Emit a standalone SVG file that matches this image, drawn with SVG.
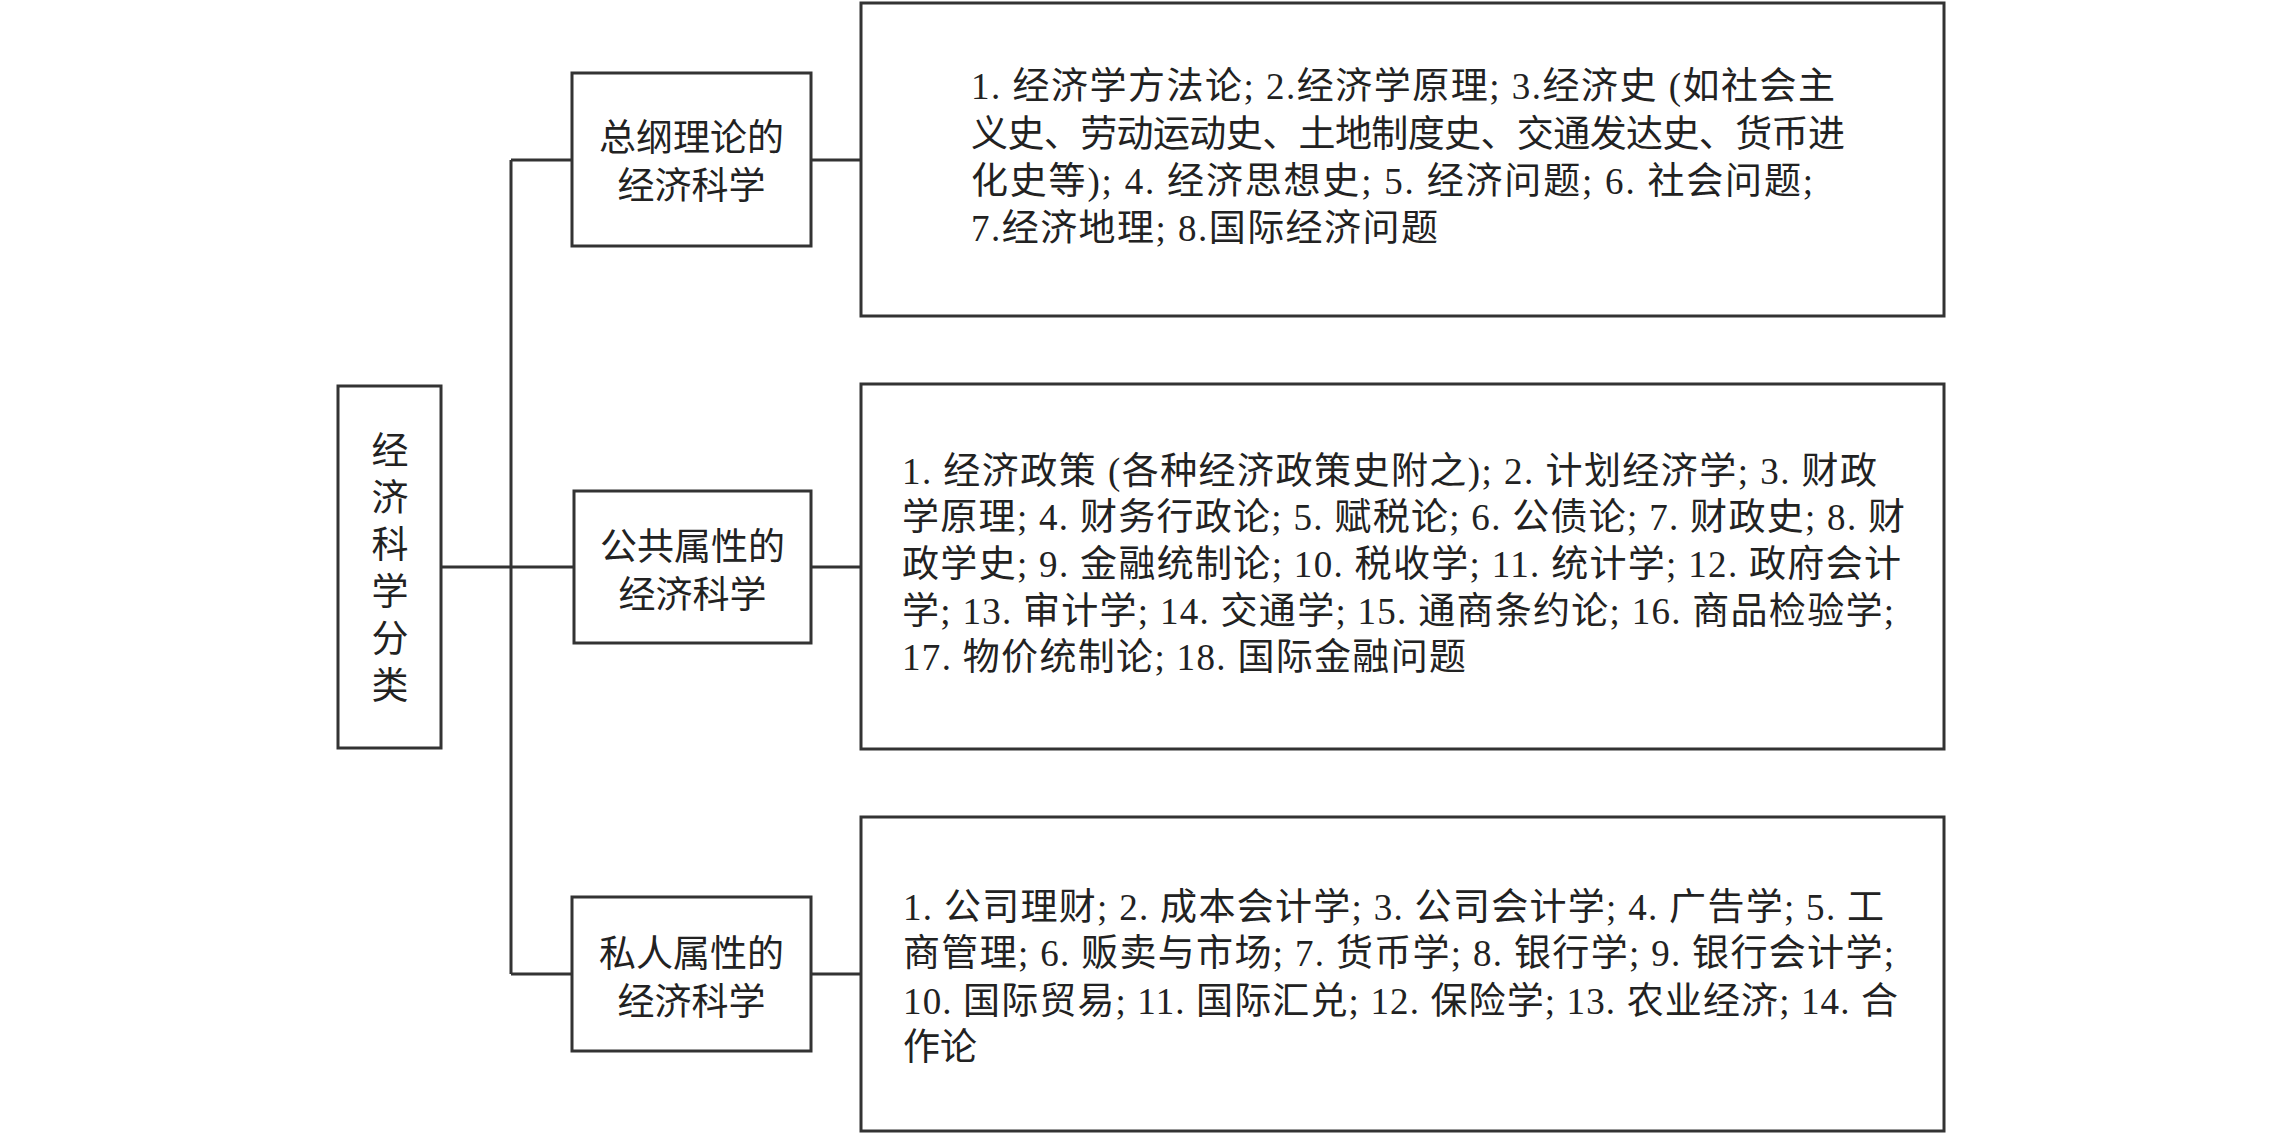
<svg xmlns="http://www.w3.org/2000/svg" width="2283" height="1134" viewBox="0 0 2283 1134">
<style>
.box{fill:#fff;stroke:#333;stroke-width:3}
.con{fill:none;stroke:#333;stroke-width:3}
.t{font-family:"Liberation Serif","Noto Sans CJK SC",serif;font-size:37px;fill:#222}
.h{font-family:"Noto Sans CJK SC",sans-serif;font-size:37px;fill:#222;text-anchor:middle}
</style>
<rect width="2283" height="1134" fill="#fff"/>
<g id="connectors">
<path class="con" d="M441 567H511M511 160V974M511 160H572M511 567H574M511 974H572"/>
<path class="con" d="M811 160H861M811 567H861M811 974H861"/>
</g>
<g id="root">
<rect class="box" x="338" y="386" width="103" height="362"/>
<text class="h"><tspan x="390" y="464">经</tspan><tspan x="390" y="511">济</tspan><tspan x="390" y="558">科</tspan><tspan x="390" y="605">学</tspan><tspan x="390" y="652">分</tspan><tspan x="390" y="699">类</tspan></text>
</g>
<g id="general">
<rect class="box" x="572" y="73" width="239" height="173"/>
<text class="h"><tspan x="691.5" y="151">总纲理论的</tspan><tspan x="691.5" y="199">经济科学</tspan></text>
</g>
<g id="public">
<rect class="box" x="574" y="491" width="237" height="152"/>
<text class="h"><tspan x="692.5" y="560">公共属性的</tspan><tspan x="692.5" y="608">经济科学</tspan></text>
</g>
<g id="private">
<rect class="box" x="572" y="897" width="239" height="154"/>
<text class="h"><tspan x="691.5" y="967">私人属性的</tspan><tspan x="691.5" y="1015">经济科学</tspan></text>
</g>
<g id="general-list">
<rect class="box" x="861" y="3" width="1083" height="313"/>
<text class="t" x="971" y="99" textLength="864" lengthAdjust="spacing">1. 经济学方法论; 2.经济学原理; 3.经济史 (如社会主</text>
<text class="t" x="971" y="147" textLength="874" lengthAdjust="spacing">义史、劳动运动史、土地制度史、交通发达史、货币进</text>
<text class="t" x="971" y="194" textLength="842" lengthAdjust="spacing">化史等); 4. 经济思想史; 5. 经济问题; 6. 社会问题;</text>
<text class="t" x="971" y="241" textLength="467" lengthAdjust="spacing">7.经济地理; 8.国际经济问题</text>
</g>
<g id="public-list">
<rect class="box" x="861" y="384" width="1083" height="365"/>
<text class="t" x="902" y="484" textLength="975" lengthAdjust="spacing">1. 经济政策 (各种经济政策史附之); 2. 计划经济学; 3. 财政</text>
<text class="t" x="902" y="530" textLength="1003" lengthAdjust="spacing">学原理; 4. 财务行政论; 5. 赋税论; 6. 公债论; 7. 财政史; 8. 财</text>
<text class="t" x="902" y="577" textLength="999" lengthAdjust="spacing">政学史; 9. 金融统制论; 10. 税收学; 11. 统计学; 12. 政府会计</text>
<text class="t" x="902" y="624" textLength="992" lengthAdjust="spacing">学; 13. 审计学; 14. 交通学; 15. 通商条约论; 16. 商品检验学;</text>
<text class="t" x="902" y="670" textLength="564" lengthAdjust="spacing">17. 物价统制论; 18. 国际金融问题</text>
</g>
<g id="private-list">
<rect class="box" x="861" y="817" width="1083" height="314"/>
<text class="t" x="903" y="920" textLength="981" lengthAdjust="spacing">1. 公司理财; 2. 成本会计学; 3. 公司会计学; 4. 广告学; 5. 工</text>
<text class="t" x="903" y="966" textLength="991" lengthAdjust="spacing">商管理; 6. 贩卖与市场; 7. 货币学; 8. 银行学; 9. 银行会计学;</text>
<text class="t" x="903" y="1014" textLength="995" lengthAdjust="spacing">10. 国际贸易; 11. 国际汇兑; 12. 保险学; 13. 农业经济; 14. 合</text>
<text class="t" x="903" y="1060">作论</text>
</g>
</svg>
